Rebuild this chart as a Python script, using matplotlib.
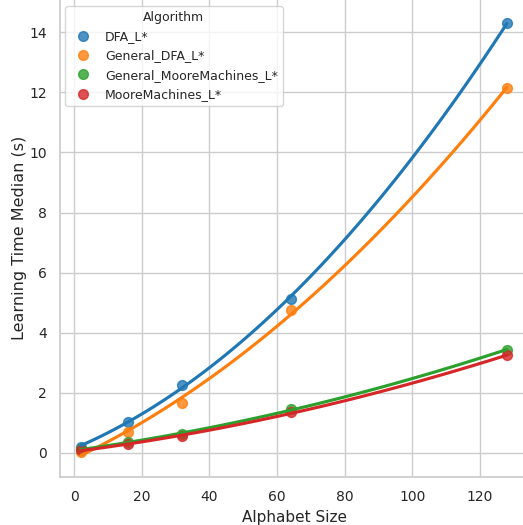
import matplotlib
matplotlib.use("Agg")
import matplotlib.pyplot as plt
import numpy as np
import seaborn as sns
from matplotlib.lines import Line2D

sns.set_theme(style="whitegrid")
plt.rcParams['font.family'] = ['DejaVu Sans']

alphabet_sizes = [2, 16, 32, 64, 128]
algorithms = ["DFA_L*", "General_DFA_L*", "General_MooreMachines_L*", "MooreMachines_L*"]
dfa = [0.21, 1.04, 2.26, 5.14, 14.3]
general_dfa = [0.02, 0.71, 1.67, 4.75, 12.14]
general_moore = [0.12, 0.37, 0.62, 1.45, 3.44]
moore = [0.10, 0.29, 0.55, 1.35, 3.25]
series = [dfa, general_dfa, general_moore, moore]

palette = sns.color_palette("tab10")[:4]

W, H = 523, 525
fig = plt.figure(figsize=(W / 100, H / 100), dpi=100)
# axes: left spine at x=60, bottom spine at y=477; top/right extend past the crop
left, bottom = 60, 48
xmin, xmax = -4.2, 134.3
ymin, ymax = -0.8, 15.1
xscale = 67.6 / 20
yscale = 30.05
ax = fig.add_axes([left / W, bottom / H, (xmax - xmin) * xscale / W, (ymax - ymin) * yscale / H])

for name, vals, col in zip(algorithms, series, palette):
    sns.regplot(x=np.array(alphabet_sizes), y=np.array(vals), order=2, ci=None,
                color=col, ax=ax, scatter_kws={"s": 50})

ax.set_xlim(xmin, xmax)
ax.set_ylim(ymin, ymax)
ax.set_xticks([0, 20, 40, 60, 80, 100, 120])
ax.set_yticks([0, 2, 4, 6, 8, 10, 12, 14])
ax.set_xlabel("Alphabet Size", fontsize=11)
ax.set_ylabel("Learning Time Median (s)", fontsize=11.5, labelpad=1.5)
ax.tick_params(labelsize=10)
sns.despine(ax=ax)

handles = [Line2D([], [], marker='o', linestyle='', color=c, markersize=7, alpha=0.8) for c in palette]
leg = ax.legend(handles, algorithms, title="Algorithm", fontsize=9,
                title_fontsize=9, frameon=True, loc="upper left",
                bbox_to_anchor=(65 / W, 1 - 6 / H), bbox_transform=fig.transFigure,
                borderaxespad=0)

fig.savefig("out.png", dpi=100)
